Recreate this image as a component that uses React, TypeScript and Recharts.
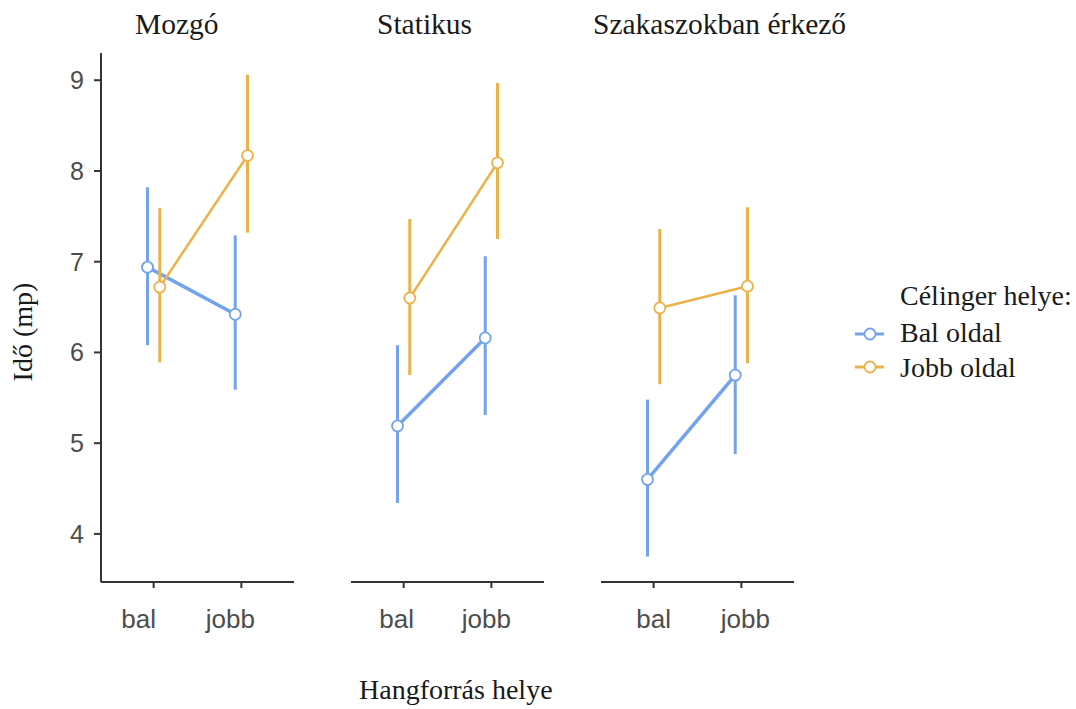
import React from 'react';
import { LineChart, Line, XAxis, YAxis, ErrorBar } from 'recharts';

const categories = ['bal', 'jobb'];
const panelTitles = ['Mozgó', 'Statikus', 'Szakaszokban érkező'];
const seriesNames = ['Bal oldal', 'Jobb oldal'];
const yTicks = [4, 5, 6, 7, 8, 9];

// per panel: [bal, jobb]
const balMean = [[6.94, 6.42], [5.19, 6.16], [4.60, 5.75]];
const balLow = [[6.08, 5.59], [4.34, 5.31], [3.75, 4.88]];
const balHigh = [[7.82, 7.29], [6.08, 7.06], [5.48, 6.63]];
const jobbMean = [[6.72, 8.17], [6.60, 8.09], [6.49, 6.73]];
const jobbLow = [[5.89, 7.32], [5.75, 7.25], [5.65, 5.88]];
const jobbHigh = [[7.59, 9.06], [7.47, 8.97], [7.36, 7.60]];

const BLUE = '#72a3ec';
const ORANGE = '#ecb24a';
const DODGE = 0.07;

const build = (mean: number[], low: number[], high: number[], shift: number) =>
  categories.map((c, i) => ({
    x: i + 1 + shift,
    cat: c,
    y: mean[i],
    err: [mean[i] - low[i], high[i] - mean[i]],
  }));

const SANS = 'Liberation Sans, Arial, sans-serif';
const TICK_FONT = { fontSize: 25, fill: '#4d4d4d', fontFamily: SANS };
const SERIF = 'Liberation Serif, Times New Roman, serif';

const PANEL_W = 193;
const PLOT_TOP = 53;
const PLOT_H = 529;
const X_AXIS_H = 60;
// horizontal nudges of the x tick labels, per panel (as in the reference)
const TICK_NUDGE = [[-15, -11], [-7, -5], [0, 4]];

function Panel({ idx, showY }: { idx: number; showY: boolean }) {
  const bal = build(balMean[idx], balLow[idx], balHigh[idx], -DODGE);
  const jobb = build(jobbMean[idx], jobbLow[idx], jobbHigh[idx], DODGE);
  const yW = showY ? 101 : 0;
  const leftM = showY ? 0 : 5;
  const width = leftM + yW + PANEL_W + 5;
  const renderTick = (props: any) => {
    const v = Math.round(props.payload.value);
    const nudge = TICK_NUDGE[idx][v - 1] || 0;
    return (
      <text
        x={props.x + nudge}
        y={props.y}
        dy="0.71em"
        textAnchor="middle"
        fontSize={26}
        fill="#4d4d4d"
        fontFamily={SANS}
      >
        {categories[v - 1]}
      </text>
    );
  };
  return (
    <LineChart
      width={width}
      height={PLOT_TOP + PLOT_H + X_AXIS_H}
      margin={{ top: PLOT_TOP, right: 5, bottom: 0, left: leftM }}
    >
      <XAxis
        dataKey="x"
        type="number"
        domain={[0.4, 2.6]}
        allowDataOverflow
        ticks={[1, 2]}
        height={X_AXIS_H}
        tick={renderTick}
        tickSize={6}
        tickMargin={22}
        axisLine={{ stroke: '#333333', strokeWidth: 2 }}
        tickLine={{ stroke: '#333333', strokeWidth: 2 }}
      />
      <YAxis
        type="number"
        domain={[3.47, 9.3]}
        allowDataOverflow
        ticks={yTicks}
        hide={!showY}
        width={yW}
        tick={TICK_FONT}
        tickSize={7}
        tickMargin={10}
        axisLine={{ stroke: '#333333', strokeWidth: 2 }}
        tickLine={{ stroke: '#333333', strokeWidth: 2 }}
      />
      <Line
        data={bal}
        dataKey="y"
        name={seriesNames[0]}
        stroke={BLUE}
        strokeWidth={3.5}
        isAnimationActive={false}
        dot={{ r: 5.5, fill: '#ffffff', stroke: BLUE, strokeWidth: 1.8 }}
        activeDot={false}
      >
        <ErrorBar dataKey="err" direction="y" width={0} stroke={BLUE} strokeWidth={3} isAnimationActive={false} />
      </Line>
      <Line
        data={jobb}
        dataKey="y"
        name={seriesNames[1]}
        stroke={ORANGE}
        strokeWidth={2.5}
        isAnimationActive={false}
        dot={{ r: 5.5, fill: '#ffffff', stroke: ORANGE, strokeWidth: 1.8 }}
        activeDot={false}
      >
        <ErrorBar dataKey="err" direction="y" width={0} stroke={ORANGE} strokeWidth={3} isAnimationActive={false} />
      </Line>
    </LineChart>
  );
}

export default function App() {
  const titleX = [135, 377, 593];
  return (
    <div style={{ position: 'absolute', left: 0, top: 0, width: 1076, height: 709, background: '#ffffff', overflow: 'hidden' }}>
      <div style={{ position: 'absolute', left: 0, top: 0 }}>
        <Panel idx={0} showY />
      </div>
      <div style={{ position: 'absolute', left: 346, top: 0 }}>
        <Panel idx={1} showY={false} />
      </div>
      <div style={{ position: 'absolute', left: 596, top: 0 }}>
        <Panel idx={2} showY={false} />
      </div>
      <svg width={1076} height={709} style={{ position: 'absolute', left: 0, top: 0, pointerEvents: 'none' }}>
        {panelTitles.map((t, i) => (
          <text key={t} x={titleX[i]} y={34} fontFamily={SERIF} fontSize={29.5} fill="#1a1a1a">
            {t}
          </text>
        ))}
        <text x={359} y={699} fontFamily={SERIF} fontSize={28} fill="#1a1a1a">
          Hangforrás helye
        </text>
        <text x={32} y={332} fontFamily={SERIF} fontSize={28} fill="#1a1a1a" textAnchor="middle" transform="rotate(-90 32 332)">
          Idő (mp)
        </text>
        <text x={900} y={305} fontFamily={SERIF} fontSize={28} fill="#1a1a1a">
          Célinger helye:
        </text>
        {seriesNames.map((s, i) => {
          const c = i === 0 ? BLUE : ORANGE;
          const gy = i === 0 ? 334 : 367;
          const ty = i === 0 ? 342 : 377;
          return (
            <g key={s}>
              <line x1={855} x2={884} y1={gy} y2={gy} stroke={c} strokeWidth={3} />
              <circle cx={870} cy={gy} r={5.5} fill="#ffffff" stroke={c} strokeWidth={1.8} />
              <text x={900} y={ty} fontFamily={SERIF} fontSize={28} fill="#1a1a1a">
                {s}
              </text>
            </g>
          );
        })}
      </svg>
    </div>
  );
}
